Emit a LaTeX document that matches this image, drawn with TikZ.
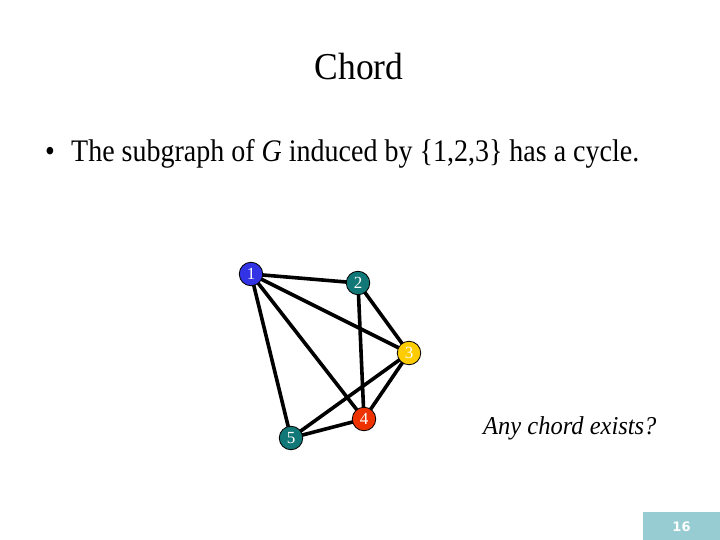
\documentclass[tikz,border=0pt]{standalone}
\usepackage{fontspec}
\setmainfont{Liberation Serif}
\newfontfamily\numfont{DejaVu Sans}
\definecolor{cblue}{RGB}{51,51,230}
\definecolor{cteal}{RGB}{17,119,119}
\definecolor{cyell}{RGB}{255,204,0}
\definecolor{cred}{RGB}{238,51,0}
\definecolor{cpage}{RGB}{150,204,210}
\begin{document}
\begin{tikzpicture}[x=1pt,y=-1pt,
  vtx/.style={circle,draw=black,line width=0.8pt,minimum size=23.5pt,inner sep=0pt,text=white,font=\fontsize{17}{17}\selectfont},
  edge/.style={line width=3.6pt,black}]
\useasboundingbox (0,0) rectangle (720,540);
\node[anchor=base,inner sep=0pt,font=\fontsize{35.5}{35.5}\selectfont] (title) at (359,80) {\scalebox{1}[1.07]{Chord}};
\node[anchor=base,inner sep=0pt,font=\fontsize{28}{28}\selectfont] (dot) at (50,162) {\scalebox{1}[1.12]{\textbullet}};
\node[anchor=base west,inner sep=0pt,font=\fontsize{28}{28}\selectfont] (bullet) at (71,162) {\scalebox{1}[1.12]{The subgraph of \textit{G} induced by \{1,2,3\} has a cycle.}};
\coordinate (p1) at (251,274);
\coordinate (p2) at (358,283);
\coordinate (p3) at (409,353);
\coordinate (p4) at (364,419);
\coordinate (p5) at (291,438);
\draw[edge] (p1)--(p2) (p1)--(p3) (p1)--(p4) (p1)--(p5) (p2)--(p3) (p2)--(p4) (p3)--(p4) (p3)--(p5) (p4)--(p5);
\node[vtx,fill=cblue] (n1) at (p1) {1};
\node[vtx,fill=cteal] (n2) at (p2) {2};
\node[vtx,fill=cyell] (n3) at (p3) {3};
\node[vtx,fill=cred] (n4) at (p4) {4};
\node[vtx,fill=cteal] (n5) at (p5) {5};
\node[anchor=base west,inner sep=0pt,font=\fontsize{24.5}{24.5}\selectfont\itshape] (q) at (483,434) {\scalebox{1}[1.05]{Any chord exists?}};
\fill[cpage] (643,512) rectangle (720,540);
\node[text=white,font=\numfont\bfseries\fontsize{13}{13}\selectfont] (pg) at (681.5,526.5) {16};
\end{tikzpicture}
\end{document}
